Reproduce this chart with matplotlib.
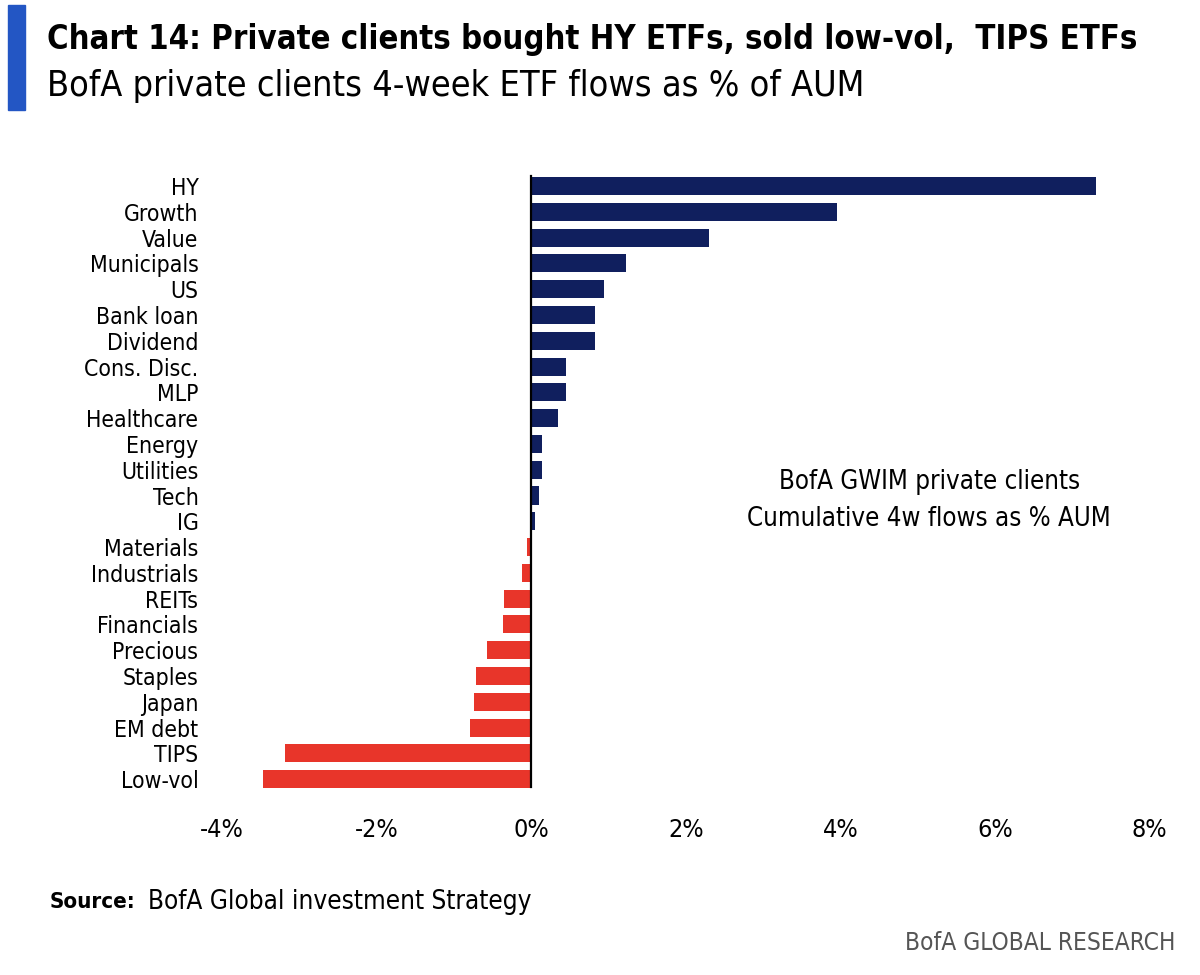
import matplotlib.pyplot as plt
from matplotlib.patches import Rectangle

# BofA private clients 4-week ETF flows as % of AUM
categories = ['HY', 'Growth', 'Value', 'Municipals', 'US', 'Bank loan', 'Dividend',
              'Cons. Disc.', 'MLP', 'Healthcare', 'Energy', 'Utilities', 'Tech', 'IG',
              'Materials', 'Industrials', 'REITs', 'Financials', 'Precious', 'Staples',
              'Japan', 'EM debt', 'TIPS', 'Low-vol']
flows = [7.31, 3.96, 2.30, 1.23, 0.94, 0.83, 0.82, 0.45, 0.45, 0.35, 0.14, 0.14,
         0.10, 0.05, -0.06, -0.12, -0.35, -0.37, -0.57, -0.72, -0.74, -0.79,
         -3.18, -3.47]
x_ticks = [-4, -2, 0, 2, 4, 6, 8]
x_tick_labels = ['-4%', '-2%', '0%', '2%', '4%', '6%', '8%']

NAVY = '#101f5e'
RED = '#e8352a'

plt.rcParams['font.family'] = ['DejaVu Sans']
plt.rcParams['font.stretch'] = 'condensed'

fig = plt.figure(figsize=(12, 9.75), dpi=100)
ax = fig.add_axes([0.185, 0.185, 0.773, 0.64])

ypos = list(range(len(categories)))
colors = [NAVY if v >= 0 else RED for v in flows]
ax.barh(ypos, flows, height=0.7, color=colors, zorder=2)

# zero line
ax.plot([0, 0], [-0.4, 23.3], color='black', lw=1.6, zorder=3)

ax.set_xlim(-4, 8)
ax.set_ylim(23.6, -0.6)
ax.set_yticks(ypos)
ax.set_yticklabels(categories, fontsize=16.5)
ax.set_xticks(x_ticks)
ax.set_xticklabels(x_tick_labels, fontsize=18)
ax.tick_params(axis='both', length=0)
ax.tick_params(axis='y', pad=17)
ax.tick_params(axis='x', pad=17)
for s in ax.spines.values():
    s.set_visible(False)

ax.text(5.15, 12.2, 'BofA GWIM private clients\nCumulative 4w flows as % AUM',
        ha='center', va='center', fontsize=18.5, linespacing=1.55)

# header
fig.patches.append(Rectangle((8 / 1200, 1 - 110 / 975), 17 / 1200, 105 / 975,
                             transform=fig.transFigure, color='#2356c4'))
fig.text(47 / 1200, 1 - 40 / 975,
         'Chart 14: Private clients bought HY ETFs, sold low-vol,  TIPS ETFs',
         fontsize=23.6, fontweight='bold', va='center', ha='left')
fig.text(47 / 1200, 1 - 86 / 975, 'BofA private clients 4-week ETF flows as % of AUM',
         fontsize=25.8, va='center', ha='left')

# footer
fig.text(50 / 1200, 1 - 902 / 975, 'Source:', fontsize=16, fontweight='bold',
         va='center', ha='left')
fig.text(148 / 1200, 1 - 902 / 975, 'BofA Global investment Strategy', fontsize=18.7,
         va='center', ha='left')
fig.text(1175 / 1200, 1 - 943 / 975, 'BofA GLOBAL RESEARCH', fontsize=17.6,
         color='#555555', va='center', ha='right')

plt.savefig('out.png', dpi=100)
